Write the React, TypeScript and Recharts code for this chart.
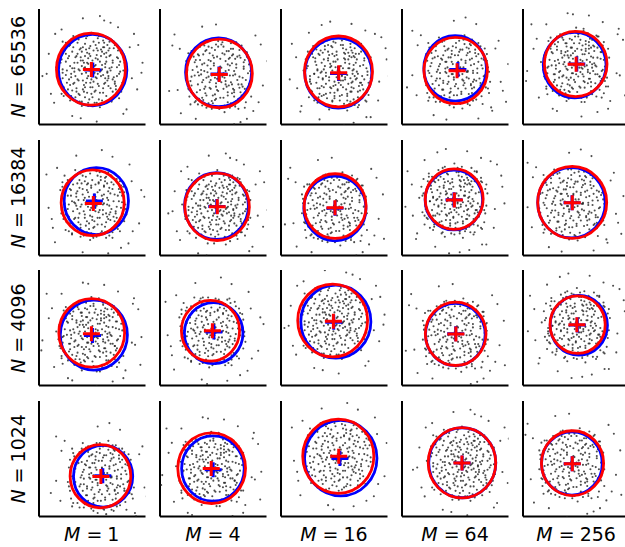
import { ScatterChart, Scatter, XAxis, YAxis } from "recharts";

const N_LABELS = ["65536", "16384", "4096", "1024"];
const M_LABELS = ["1", "4", "16", "64", "256"];

// [cx, cy, r] per panel, row by row (N rows, M columns)
const RED_CIRCLES = [
  [48.8, 49.8, 32.4], [55.8, 46.0, 30.9], [54.0, 47.8, 31.9], [50.4, 48.6, 29.8], [49.5, 54.5, 29.4],
  [50.4, 47.5, 29.6], [53.6, 43.8, 30.3], [50.8, 44.5, 29.1], [49.0, 50.8, 27.2], [46.2, 47.8, 32.4],
  [49.5, 47.4, 30.9], [47.4, 49.3, 27.3], [48.5, 58.5, 32.8], [50.4, 46.5, 28.5], [51.3, 54.8, 25.9],
  [57.7, 36.3, 28.5], [48.5, 43.5, 31.8], [53.8, 54.3, 33.4], [56.3, 48.4, 31.7], [46.5, 48.0, 29.2],
];
const BLUE_CIRCLES = [
  [50.4, 49.0, 32.1], [55.0, 47.0, 31.0], [53.8, 46.3, 31.5], [49.9, 50.5, 29.4], [48.5, 53.5, 29.5],
  [53.8, 49.0, 30.2], [53.0, 44.5, 30.0], [50.6, 42.4, 29.2], [48.7, 50.0, 27.0], [45.5, 47.5, 31.7],
  [51.5, 45.4, 31.5], [50.4, 47.2, 27.5], [51.5, 57.5, 32.9], [50.1, 45.9, 28.0], [52.4, 54.2, 26.9],
  [60.2, 36.3, 27.8], [49.7, 43.2, 29.4], [56.1, 52.5, 34.0], [56.6, 48.4, 31.5], [45.9, 47.8, 28.5],
];
const RED_CROSSES = [
  [49.2, 49.6], [55.6, 45.1], [54.2, 46.6], [51.7, 48.4], [49.9, 54.2],
  [51.0, 46.9], [53.8, 43.9], [50.7, 43.0], [49.2, 49.9], [46.3, 47.5],
  [49.2, 46.6], [49.2, 49.3], [49.2, 57.8], [50.6, 46.3], [50.6, 54.8],
  [58.1, 36.1], [48.1, 43.3], [54.2, 54.2], [56.3, 48.1], [46.3, 47.5],
];
const BLUE_CROSSES = [
  [50.5, 49.0], [55.4, 45.5], [54.0, 46.0], [52.5, 49.5], [50.5, 54.5],
  [52.0, 49.0], [53.3, 44.2], [50.7, 42.5], [48.8, 50.3], [46.0, 47.5],
  [50.2, 45.1], [50.6, 48.1], [49.5, 57.0], [50.4, 46.5], [51.0, 54.5],
  [59.9, 36.7], [49.9, 42.1], [55.3, 52.3], [56.5, 48.1], [46.1, 47.5],
];

// sample clouds, offsets from the panel centre
const CLOUD_A = [
  [-3,5],[8,-2],[12,14],[-15,-6],[4,22],[-22,10],[18,-17],[-6,-25],[26,4],[-9,16],[2,-11],[14,7],[-18,-19],[7,30],[-27,-3],[21,19],[-4,-8],[10,-28],[-13,24],[29,-12],
  [1,1],[-7,-14],[16,-6],[-20,3],[5,13],[-11,-29],[24,11],[-2,19],[11,-17],[-25,17],[6,-4],[-16,-12],[19,26],[-8,8],[3,-20],[-30,-11],[13,2],[-5,28],[22,-23],[-12,0],
  [9,18],[-19,-24],[27,-2],[-1,-16],[15,22],[-24,14],[4,-7],[-10,11],[20,-9],[-14,-20],[0,33],[31,6],[-29,6],[8,-34],[-6,2],[17,12],[-21,-9],[12,-13],[-3,-30],[23,-15],
  [-17,20],[6,9],[-9,-4],[25,17],[-26,-16],[2,25],[14,-24],[-13,6],[10,4],[-4,-21],[18,-1],[-23,-1],[7,-15],[-15,27],[28,-20],[-1,12],[11,26],[-8,-18],[20,6],[-18,16],
  [3,-3],[-12,-10],[16,17],[-6,23],[24,-6],[-28,-22],[1,-25],[13,-8],[-20,-14],[9,12],[-2,-1],[30,14],[-33,2],[5,-30],[-10,19],[19,-29],[-24,24],[15,-3],[-7,6],[6,17],
  [-16,1],[12,20],[-4,15],[22,-11],[-11,-23],[0,-9],[17,1],[-21,21],[8,-21],[-14,12],[26,-26],[-3,10],[11,-5],[-27,-8],[4,4],[-9,-33],[21,25],[-5,-12],[14,15],[-19,-4],
  [38,-8],[-40,14],[12,44],[-18,-42],[44,22],[-35,-30],[30,-40],[-8,46],[47,-3],[-46,-6],[25,38],[-28,36],[5,-47],[40,32],
];
const CLOUD_B = [
  [2,-4],[-9,3],[15,-10],[-5,18],[20,8],[-17,-13],[7,24],[-24,-5],[11,-21],[-13,14],[26,-4],[-2,-27],[4,10],[-20,22],[17,19],[-8,-10],[9,-1],[-28,9],[23,-18],[-4,30],
  [13,5],[-15,-25],[1,-16],[-11,-1],[28,15],[-6,12],[18,-26],[-22,-18],[5,-8],[-1,21],[14,28],[-30,-9],[10,16],[-16,6],[21,-7],[-7,-20],[3,3],[-25,18],[16,-15],[-12,27],
  [29,-16],[0,-22],[8,7],[-19,-7],[12,-31],[-3,-6],[22,22],[-27,0],[6,-13],[-10,8],[19,2],[-14,-17],[-2,14],[25,10],[-21,12],[11,20],[-9,-29],[15,-2],[-5,-3],[30,-1],
  [-17,30],[7,-27],[-26,-24],[2,17],[13,-12],[-8,20],[23,-23],[-18,1],[4,-19],[-13,-9],[17,25],[-4,6],[9,-6],[-23,-12],[27,7],[-1,-12],[14,11],[-11,18],[20,-20],[-29,15],
  [6,28],[-6,-16],[10,0],[-15,11],[24,2],[-20,-28],[1,8],[-3,-33],[16,-8],[-24,7],[12,24],[-7,1],[31,-10],[-12,-22],[5,19],[18,13],[-16,-2],[3,-30],[-27,25],[22,-13],
  [36,20],[-42,-4],[-10,-44],[18,42],[43,-18],[-34,32],[33,-36],[-38,-22],[8,48],[48,6],
];
const CLOUD_C = [
  [-1,2],[6,-6],[-12,-3],[10,15],[-7,24],[19,-12],[-21,7],[14,3],[-4,-18],[25,20],[-16,-21],[3,29],[-26,-10],[8,-25],[-10,13],[22,-3],[-3,-11],[16,9],[-19,17],[0,-31],
  [12,-17],[-23,-1],[5,18],[-14,-13],[28,-9],[-8,5],[11,23],[-29,19],[18,-22],[-6,-26],[2,6],[-17,0],[24,13],[-11,29],[15,-29],[-25,-17],[7,0],[-2,16],[20,-16],[-13,21],
  [27,1],[-20,-27],[4,-13],[-9,-7],[13,18],[-30,4],[9,-10],[-5,10],[21,26],[-15,-5],[1,-21],[17,-5],[-22,13],[6,12],[-12,-19],[29,10],[-3,27],[11,-26],[-18,-14],[14,-14],
  [-7,-1],[23,7],[-27,-6],[3,-2],[-10,25],[19,17],[-24,21],[8,-19],[-14,3],[16,29],[-1,-15],[25,-25],[-19,-22],[10,8],[-6,17],[30,-5],[-16,9],[5,-28],[-28,-14],[13,-1],
  [-9,30],[21,-9],[-4,-23],[7,21],[-20,2],[15,14],[-12,-30],[2,-7],[26,16],[-23,-25],[9,4],[-8,-13],[18,-31],[-31,12],[4,25],[-15,18],[12,-9],[-2,-4],
  [-39,-14],[37,-25],[-16,43],[14,-45],[45,12],[-44,26],[26,-40],[-5,-48],[34,35],[-36,-35],
];
const CLOUD_D = [
  [4,1],[-8,-5],[13,-13],[-14,10],[9,21],[-21,-16],[23,5],[-3,-22],[-18,25],[16,-24],[1,14],[-26,-2],[20,15],[-10,-26],[6,-9],[-5,8],[27,-15],[-13,-11],[11,28],[-24,16],
  [2,-29],[15,0],[-17,4],[-1,25],[24,-30],[-9,19],[8,-16],[-28,-20],[19,22],[-4,-3],[12,10],[-20,-9],[29,3],[-7,-31],[3,19],[-15,-23],[22,-11],[-11,2],[7,32],[-30,8],
  [14,-20],[-2,-14],[17,16],[-23,11],[5,-3],[-12,22],[25,-5],[-6,-19],[10,-30],[-19,-1],[1,7],[21,-19],[-26,21],[13,23],[-8,12],[28,9],[-16,-28],[6,3],[-3,-8],[18,-9],
  [-22,-24],[9,14],[-13,-17],[2,27],[26,20],[-29,-13],[11,-7],[-5,15],[15,-27],[-18,13],[4,-21],[23,11],[-10,-2],[-1,30],[19,-2],[-25,4],[7,-11],[-14,26],[30,-20],[0,-5],
  [12,17],[-20,18],[16,6],[-7,-24],[-27,-27],[10,-1],[-4,22],[20,25],[-16,-7],[5,-34],[24,-13],[-11,8],[8,9],[-31,-5],[14,-16],[-9,-12],
  [41,-10],[-37,23],[20,-43],[-22,-40],[39,27],[-47,-15],[-3,45],[32,-33],[-42,36],[46,-28],
];
const CLOUDS = [CLOUD_A, CLOUD_B, CLOUD_C, CLOUD_D];
const CLOUD_PAIRS = [[0, 1], [2, 3], [0, 2], [1, 3], [0, 3], [1, 2]];

const PLOT_W = 106.5;
const PLOT_H = 115.5;
const X_MAX = 100;
const Y_MAX = 104;
const KX = PLOT_W / X_MAX;
const KY = PLOT_H / Y_MAX;
const PAD = 3;
const COL_X = [38.5, 159.6, 280.7, 401.8, 522.9];
const ROW_Y = [9, 139.7, 270.4, 401.1];
const FONT = "DejaVu Sans, Liberation Sans, sans-serif";

const dot = (p: any) => <circle cx={p.cx} cy={p.cy} r={1.05} fill="#222" fillOpacity={0.8} />;

const ring = (color: string) => (p: any) => (
  <ellipse cx={p.cx} cy={p.cy} rx={p.payload.r * KX} ry={p.payload.r * KY} fill="none" stroke={color} strokeWidth={2.8} />
);

const cross = (color: string) => (p: any) => (
  <g stroke={color} strokeWidth={3}>
    <line x1={p.cx - 8.5} x2={p.cx + 8.5} y1={p.cy} y2={p.cy} />
    <line x1={p.cx} x2={p.cx} y1={p.cy - 7.5} y2={p.cy + 7.5} />
  </g>
);

function Panel({ i }: { i: number }) {
  const [cx, cy] = RED_CROSSES[i];
  const points = CLOUD_PAIRS[i % 6].flatMap((k) => CLOUDS[k].map(([dx, dy]) => ({ x: cx + dx, y: cy + dy })));
  const toCircle = ([x, y, r]: number[]) => [{ x, y, r }];
  const toPoint = ([x, y]: number[]) => [{ x, y }];
  const row = Math.floor(i / 5);
  const col = i % 5;

  return (
    <div style={{ position: "absolute", left: COL_X[col] - PAD, top: ROW_Y[row] - PAD }}>
      <ScatterChart width={PLOT_W + PAD * 2} height={PLOT_H + PAD * 2} margin={{ top: PAD, right: PAD, bottom: PAD - 1, left: PAD - 1 }}>
        <XAxis type="number" dataKey="x" domain={[0, X_MAX]} allowDataOverflow tick={false} tickLine={false} height={1}
          axisLine={{ stroke: "#000", strokeWidth: 2 }} />
        <YAxis type="number" dataKey="y" domain={[0, Y_MAX]} allowDataOverflow tick={false} tickLine={false} width={1}
          axisLine={{ stroke: "#000", strokeWidth: 2 }} />
        <Scatter data={points} shape={dot} isAnimationActive={false} />
        <Scatter data={toCircle(BLUE_CIRCLES[i])} shape={ring("#0000ff")} isAnimationActive={false} />
        <Scatter data={toCircle(RED_CIRCLES[i])} shape={ring("#ff0000")} isAnimationActive={false} />
        <Scatter data={toPoint(BLUE_CROSSES[i])} shape={cross("#0000ff")} isAnimationActive={false} />
        <Scatter data={toPoint(RED_CROSSES[i])} shape={cross("#ff0000")} isAnimationActive={false} />
      </ScatterChart>
    </div>
  );
}

export default function App() {
  return (
    <div style={{ position: "absolute", left: 0, top: 0, width: 625, height: 547, background: "#fff", overflow: "hidden" }}>
      <svg width={625} height={547} style={{ position: "absolute", left: 0, top: 0 }}>
        {M_LABELS.map((m, c) => (
          <text key={m} x={COL_X[c] + PLOT_W / 2} y={541} textAnchor="middle" fontFamily={FONT} fontSize={19} fill="#000">
            <tspan fontStyle="italic">M</tspan>
            <tspan dx={6}>=</tspan>
            <tspan dx={5}>{m}</tspan>
          </text>
        ))}
        {N_LABELS.map((n, r) => (
          <text key={n} transform={`translate(25, ${ROW_Y[r] + PLOT_H / 2}) rotate(-90)`} textAnchor="middle" fontFamily={FONT} fontSize={19} fill="#000">
            <tspan fontStyle="italic">N</tspan>
            <tspan dx={6}>=</tspan>
            <tspan dx={5}>{n}</tspan>
          </text>
        ))}
      </svg>
      {RED_CIRCLES.map((_, i) => (
        <Panel key={i} i={i} />
      ))}
    </div>
  );
}
